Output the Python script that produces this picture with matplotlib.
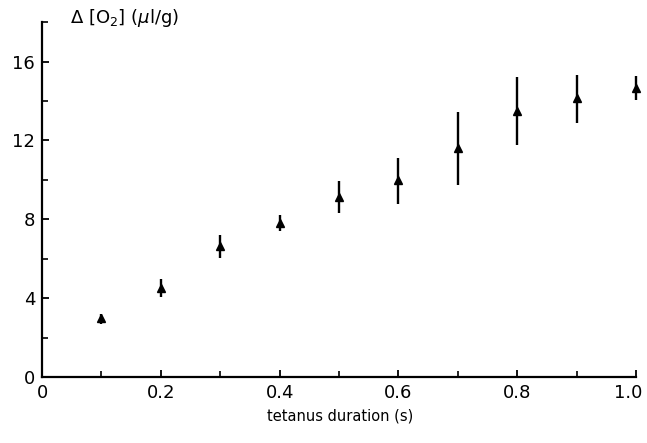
import numpy as np
import matplotlib
matplotlib.use('Agg')
import matplotlib.pyplot as plt
import matplotlib.transforms as mtransforms
from matplotlib.ticker import MultipleLocator

plt.rcParams['font.family'] = ['DejaVu Sans']

# 数据
duration = [0.1, 0.2, 0.3, 0.4, 0.5, 0.6, 0.7, 0.8, 0.9, 1.0]
delta_o2 = [3.0, 4.5, 6.65, 7.8, 9.15, 10.0, 11.6, 13.5, 14.15, 14.65]
err_low = [0.3, 0.45, 0.6, 0.4, 0.85, 1.2, 1.85, 1.75, 1.25, 0.6]
err_high = [0.2, 0.45, 0.55, 0.4, 0.8, 1.1, 1.85, 1.7, 1.15, 0.6]

x_ticks = [0, 0.2, 0.4, 0.6, 0.8, 1.0]
x_labels = ['0', '0.2', '0.4', '0.6', '0.8', '1.0']
y_ticks = [0, 4, 8, 12, 16]

fig = plt.figure(figsize=(6.47, 4.43), dpi=100)
ax = fig.add_axes([0.065, 0.149, 0.918, 0.801])

eb = ax.errorbar(duration, delta_o2, yerr=[err_low, err_high], fmt='^', color='black',
                 markersize=6, elinewidth=1.7, capsize=0)
for art in eb.lines[0:1] + tuple(eb.lines[2]):
    art.set_clip_on(False)

ax.set_xlim(0, 1.0)
ax.set_ylim(0, 18)
ax.spines['top'].set_visible(False)
ax.spines['right'].set_visible(False)
ax.spines['left'].set_linewidth(1.6)
ax.spines['bottom'].set_linewidth(1.6)

ax.set_xticks(x_ticks)
ax.set_xticklabels(x_labels)
ax.set_yticks(y_ticks)
ax.xaxis.set_minor_locator(MultipleLocator(0.1))
ax.yaxis.set_minor_locator(MultipleLocator(2))
ax.tick_params(which='major', direction='in', length=5, width=1.3, labelsize=13, pad=5)
ax.tick_params(which='minor', direction='in', length=4, width=1.2)

# 最后一个刻度标签往左挪一点，免得被裁掉
last = ax.get_xticklabels()[-1]
last.set_transform(last.get_transform() + mtransforms.ScaledTranslation(-8 / 100, 0, fig.dpi_scale_trans))

ax.text(0.047, 1.012, r'$\Delta$ [O$_2$] ($\mu$l/g)', transform=ax.transAxes,
        fontsize=13, ha='left', va='center')
fig.text(0.525, 0.06, 'tetanus duration (s)', fontsize=10.5, ha='center', va='center')

fig.savefig('out.png', dpi=100)
